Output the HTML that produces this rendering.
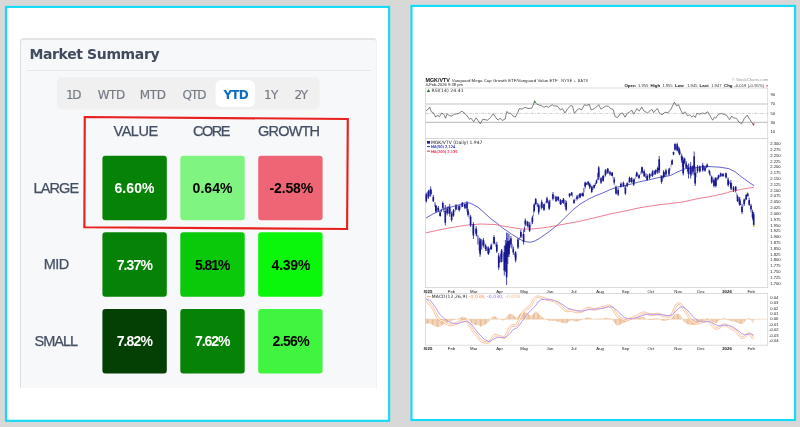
<!DOCTYPE html>
<html lang="en"><head><meta charset="utf-8"><title>Market Summary</title>
<style>
html,body{margin:0;padding:0;background:#d8d8d8}
body{width:800px;height:427px;background:#d8d8d8;position:relative;overflow:hidden;font-family:"Liberation Sans",sans-serif}
.panel{position:absolute;box-sizing:border-box;border:2px solid transparent;overflow:hidden}
.frames{position:absolute;left:0;top:0;filter:blur(0.3px)}
#left{left:5px;top:6px;width:385px;height:416px;filter:blur(0.3px)}
.card{position:absolute;left:13px;top:30px;width:357.4px;height:350.4px;box-sizing:border-box;background:#f7f8fa;border-top:2px solid #e3e4e5;border-left:1px solid #dddedf;border-right:1px solid #f0f1f3;border-radius:4px 4px 0 0}
.sep{position:absolute;left:20px;top:62px;width:343.5px;height:1px;background:#e6e8eb}
.red{position:absolute;left:0;top:0}
.t{position:absolute;white-space:nowrap;line-height:20px;font-family:"Liberation Sans",sans-serif}
.pct{font-size:14px;font-weight:bold;color:#000}
.hd{font-size:14.5px;color:#434f62;-webkit-text-stroke:0.25px #434f62}
.tab{font-family:"DejaVu Sans","Liberation Sans",sans-serif;font-size:12px;color:#747a83;-webkit-text-stroke:0.15px #747a83}
.tab.on{font-weight:bold;color:#0d6cc4;-webkit-text-stroke:0}
.title{font-family:"DejaVu Sans","Liberation Sans",sans-serif;font-size:14px;font-weight:bold;color:#404b5d}
.chart{position:absolute;left:0;top:0;filter:blur(0.35px)}
</style></head>
<body>
<svg class="frames" width="800" height="427"><rect x="6" y="6.9" width="383.1" height="413.9" fill="#fff" stroke="#12dbf8" stroke-width="2.1"/><rect x="411.45" y="5.9" width="383.6" height="414.1" fill="#fff" stroke="#12dbf8" stroke-width="2.1"/></svg>
<div class="panel" id="left">
 <div class="card"></div>
 <div class="sep"></div>
 <svg class="red" width="381" height="412"><rect x="50" y="69.2" width="262.6" height="32.2" rx="5" fill="#f0f0f1"/><rect x="208.6" y="72" width="39.4" height="27" rx="6" fill="#fff"/><polygon points="77.75,109 340.8,111 340.1,221 77.35,219.3" fill="none" stroke="#e8201f" stroke-width="2.15" stroke-linejoin="miter"/>
<rect x="95.40" y="147.70" width="64.4" height="64.5" rx="3" fill="#068206"/>
<rect x="173.30" y="147.70" width="64.4" height="64.5" rx="3" fill="#80f480"/>
<rect x="251.20" y="147.70" width="64.4" height="64.5" rx="3" fill="#ee6675"/>
<rect x="95.40" y="224.35" width="64.4" height="64.5" rx="3" fill="#068206"/>
<rect x="173.30" y="224.35" width="64.4" height="64.5" rx="3" fill="#0ac80a"/>
<rect x="251.20" y="224.35" width="64.4" height="64.5" rx="3" fill="#0af60a"/>
<rect x="95.40" y="301.00" width="64.4" height="64.5" rx="3" fill="#043f04"/>
<rect x="173.30" y="301.00" width="64.4" height="64.5" rx="3" fill="#068206"/>
<rect x="251.20" y="301.00" width="64.4" height="64.5" rx="3" fill="#40f440"/></svg>
<div class="t pct" style="left:107.4px;top:170.0px;letter-spacing:0.1px;color:#fff">6.60%</div>
<div class="t pct" style="left:185.6px;top:170.0px;letter-spacing:0.05px;">0.64%</div>
<div class="t pct" style="left:262.6px;top:170.0px;letter-spacing:-0.16px;">-2.58%</div>
<div class="t pct" style="left:109.7px;top:246.7px;letter-spacing:-0.88px;color:#fff">7.37%</div>
<div class="t pct" style="left:187.9px;top:246.7px;letter-spacing:-1.02px;">5.81%</div>
<div class="t pct" style="left:264.6px;top:246.7px;letter-spacing:-0.23px;">4.39%</div>
<div class="t pct" style="left:109.7px;top:323.2px;letter-spacing:-0.88px;color:#fff">7.82%</div>
<div class="t pct" style="left:187.9px;top:323.2px;letter-spacing:-1.02px;color:#fff">7.62%</div>
<div class="t pct" style="left:265.5px;top:323.2px;letter-spacing:-0.65px;">2.56%</div>
<div class="t hd" style="left:106.6px;top:113.0px;letter-spacing:-0.5px;">VALUE</div>
<div class="t hd" style="left:186.0px;top:113.0px;letter-spacing:-1.53px;">CORE</div>
<div class="t hd" style="left:251.0px;top:113.0px;letter-spacing:-0.8px;">GROWTH</div>
<div class="t hd" style="left:26.5px;top:169.5px;letter-spacing:-0.88px;">LARGE</div>
<div class="t hd" style="left:36.8px;top:246.2px;letter-spacing:-0.6px;">MID</div>
<div class="t hd" style="left:27.6px;top:323.0px;letter-spacing:-1.0px;">SMALL</div>
<div class="t tab" style="left:58.9px;top:76.7px;letter-spacing:-1.3px;">1D</div>
<div class="t tab" style="left:90.8px;top:76.7px;letter-spacing:-0.55px;">WTD</div>
<div class="t tab" style="left:132.7px;top:76.7px;letter-spacing:-0.35px;">MTD</div>
<div class="t tab" style="left:175.4px;top:76.7px;letter-spacing:-0.9px;">QTD</div>
<div class="t tab on" style="left:216.4px;top:76.7px;letter-spacing:-0.75px;">YTD</div>
<div class="t tab" style="left:257.0px;top:76.7px;letter-spacing:-0.6px;">1Y</div>
<div class="t tab" style="left:287.4px;top:76.7px;letter-spacing:-1.4px;">2Y</div>
<div class="t title" style="left:22.4px;top:36.3px;letter-spacing:-0.37px;">Market Summary</div>
</div>
<svg class="chart" width="800" height="427" viewBox="0 0 800 427">
<g transform="translate(0.0,0.0)">
<g fill="#fff" stroke="#d4d4d4" stroke-width="0.8">
<rect x="425.5" y="88" width="342.20000000000005" height="50.6"/>
<rect x="425.5" y="138.6" width="342.20000000000005" height="149"/>
<rect x="425.5" y="293.5" width="342.20000000000005" height="51.7"/>
</g>
<g stroke="#c4c4c4" stroke-width="1.1"><line x1="425.5" y1="104" x2="767.7" y2="104"/><line x1="425.5" y1="122.4" x2="767.7" y2="122.4"/></g>
<line x1="425.5" y1="113.4" x2="767.7" y2="113.4" stroke="#9a9a9a" stroke-width="0.5" stroke-dasharray="3 1.2 0.8 1.2"/>
<polyline fill="none" stroke="#4a4a4a" stroke-width="0.7" stroke-linejoin="round" points="426.0,110.7 428.2,109.2 429.7,107.0 431.2,111.5 433.5,113.0 435.7,117.2 437.2,115.2 439.5,116.7 441.7,113.0 444.0,114.5 445.5,118.2 447.0,113.7 449.2,115.7 451.5,116.0 454.5,114.2 458.2,113.7 462.0,111.2 465.0,113.7 467.2,116.0 469.5,119.3 471.0,118.2 473.7,121.7 476.2,117.8 478.5,121.2 480.3,123.8 482.7,119.3 485.2,119.7 487.5,120.2 490.5,117.5 493.2,113.7 495.7,117.5 498.0,120.2 500.2,118.2 502.2,120.5 505.2,119.0 506.7,111.5 508.5,113.0 510.7,113.3 513.0,116.0 515.2,117.2 517.5,113.0 519.3,108.5 522.0,109.2 525.0,107.3 528.0,108.5 531.7,108.2 534.7,101.7 537.0,104.3 538.0,104.7 541.7,105.8 544.0,107.3 546.2,106.2 548.5,107.3 552.2,104.7 553.7,105.8 557.5,106.2 560.5,110.0 562.3,108.5 565.0,113.0 568.0,108.2 571.0,105.5 572.5,106.2 574.3,113.3 577.0,110.0 579.2,108.5 581.5,110.0 584.5,104.7 586.7,105.5 589.3,104.3 591.2,110.0 594.2,108.5 596.5,107.0 598.7,104.7 601.0,109.2 603.2,107.7 605.5,106.2 608.5,106.2 610.7,108.8 613.0,109.2 615.2,116.7 617.5,117.5 620.5,113.7 622.7,113.0 625.0,117.2 627.2,113.3 629.5,112.2 631.7,110.0 633.7,114.2 637.0,108.5 639.2,111.2 641.8,107.0 643.7,110.7 647.5,113.0 651.2,109.7 652.2,109.7 653.7,112.7 656.0,109.7 657.5,108.5 659.3,113.0 662.0,114.8 665.0,112.2 668.0,112.7 671.0,109.2 674.3,102.2 676.7,105.8 678.5,104.7 680.7,110.0 683.0,114.2 684.8,111.8 687.5,115.7 689.7,114.8 691.7,116.7 693.8,115.7 695.3,117.5 696.8,113.3 699.5,114.2 702.5,113.0 704.7,113.7 707.7,111.8 710.0,115.7 712.7,120.2 714.5,117.2 715.7,118.2 718.2,114.5 721.2,113.3 724.2,114.5 726.5,115.2 729.5,119.7 731.7,116.0 733.2,117.8 736.2,118.2 739.2,122.3 741.5,123.8 744.5,118.2 747.2,115.2 749.7,119.3 752.0,122.7 753.5,124.7"/>
<path d="M533.4 102.6 L534.7 100.2 L536 102.6 Z" fill="#2f7d32"/>
<path d="M752.3 123.4 L754.7 123.4 L753.5 126 Z" fill="#a83232"/>
<path d="M426.2 319.2V323.7M427.5 319.2V323.5M428.7 319.2V323.3M430.0 319.2V323.7M431.2 319.2V324.2M432.5 319.2V324.8M433.8 319.2V325.6M435.0 319.2V326.3M436.3 319.2V326.6M437.6 319.2V326.9M438.8 319.2V327.1M440.1 319.2V326.3M441.3 319.2V325.4M442.6 319.2V324.7M443.9 319.2V324.1M445.1 319.2V323.6M446.4 319.2V323.1M447.7 319.2V322.7M448.9 319.2V322.1M450.2 319.2V321.4M451.4 319.2V320.7M452.7 319.2V320.4M454.0 319.2V320.0M455.2 319.2V319.7M457.8 319.2V318.7M459.0 319.2V318.2M460.3 319.2V317.7M461.5 319.2V317.2M462.8 319.2V316.7M464.1 319.2V317.2M465.3 319.2V317.6M466.6 319.2V318.4M469.1 319.2V320.4M470.4 319.2V321.7M471.6 319.2V322.9M472.9 319.2V323.9M474.2 319.2V324.8M475.4 319.2V325.1M476.7 319.2V324.9M477.9 319.2V325.0M479.2 319.2V325.8M480.5 319.2V326.6M481.7 319.2V326.2M483.0 319.2V325.6M484.3 319.2V324.9M485.5 319.2V324.3M486.8 319.2V323.6M488.0 319.2V322.4M489.3 319.2V321.1M491.8 319.2V317.3M493.1 319.2V316.4M494.3 319.2V315.9M495.6 319.2V316.7M496.9 319.2V317.6M498.1 319.2V318.4M500.7 319.2V319.6M501.9 319.2V320.1M503.2 319.2V320.5M504.4 319.2V320.1M505.7 319.2V318.4M507.0 319.2V316.6M508.2 319.2V314.7M509.5 319.2V314.1M510.8 319.2V313.8M512.0 319.2V314.1M513.3 319.2V315.2M514.5 319.2V316.2M515.8 319.2V317.4M517.1 319.2V317.6M518.3 319.2V315.7M519.6 319.2V314.3M520.8 319.2V313.3M522.1 319.2V312.5M523.4 319.2V312.4M524.6 319.2V312.2M525.9 319.2V312.5M527.2 319.2V312.9M528.4 319.2V313.6M529.7 319.2V314.9M530.9 319.2V316.1M532.2 319.2V315.0M533.5 319.2V313.7M534.7 319.2V312.5M536.0 319.2V311.8M537.3 319.2V312.3M538.5 319.2V313.6M539.8 319.2V314.9M541.0 319.2V316.0M542.3 319.2V317.1M543.6 319.2V318.0M544.8 319.2V318.8M546.1 319.2V319.5M547.4 319.2V320.1M548.6 319.2V320.7M549.9 319.2V320.7M551.1 319.2V320.7M552.4 319.2V320.7M553.7 319.2V320.8M554.9 319.2V321.0M556.2 319.2V321.3M557.4 319.2V321.5M558.7 319.2V321.8M560.0 319.2V322.2M561.2 319.2V322.5M562.5 319.2V322.8M563.8 319.2V323.2M565.0 319.2V323.5M566.3 319.2V323.3M567.5 319.2V322.5M568.8 319.2V321.7M570.1 319.2V321.0M571.3 319.2V320.2M572.6 319.2V320.4M573.9 319.2V321.1M575.1 319.2V321.5M576.4 319.2V321.4M577.6 319.2V321.3M578.9 319.2V321.0M580.2 319.2V320.5M581.4 319.2V320.0M583.9 319.2V318.8M585.2 319.2V318.1M586.5 319.2V317.6M587.7 319.2V317.5M589.0 319.2V317.3M590.3 319.2V317.9M591.5 319.2V318.6M595.3 319.2V319.6M597.8 319.2V318.8M599.1 319.2V318.5M600.4 319.2V318.6M601.6 319.2V318.7M602.9 319.2V318.7M604.1 319.2V318.3M605.4 319.2V317.9M606.7 319.2V317.8M607.9 319.2V318.1M609.2 319.2V318.3M610.5 319.2V318.8M611.7 319.2V319.8M613.0 319.2V320.7M614.2 319.2V322.4M615.5 319.2V324.0M616.8 319.2V325.1M618.0 319.2V325.5M619.3 319.2V325.0M620.5 319.2V324.5M621.8 319.2V323.7M623.1 319.2V323.0M624.3 319.2V322.4M625.6 319.2V321.9M626.9 319.2V321.3M628.1 319.2V320.5M629.4 319.2V319.8M630.6 319.2V319.5M634.4 319.2V318.7M635.7 319.2V318.4M637.0 319.2V318.1M638.2 319.2V317.8M639.5 319.2V317.4M640.7 319.2V317.1M642.0 319.2V316.8M643.3 319.2V317.2M644.5 319.2V317.9M645.8 319.2V318.5M648.3 319.2V319.7M649.6 319.2V320.0M650.8 319.2V320.0M652.1 319.2V320.0M653.4 319.2V320.0M654.6 319.2V318.5M655.9 319.2V318.5M657.1 319.2V318.5M658.4 319.2V318.6M660.9 319.2V320.1M662.2 319.2V320.7M663.5 319.2V320.7M664.7 319.2V320.7M666.0 319.2V320.6M667.2 319.2V320.3M668.5 319.2V320.0M669.8 319.2V319.5M671.0 319.2V318.3M672.3 319.2V317.2M673.6 319.2V315.9M674.8 319.2V314.7M676.1 319.2V313.9M677.3 319.2V313.8M678.6 319.2V313.8M679.9 319.2V314.8M681.1 319.2V316.5M683.6 319.2V321.1M684.9 319.2V322.5M686.2 319.2V323.3M687.4 319.2V324.2M688.7 319.2V324.4M690.0 319.2V324.6M691.2 319.2V324.8M692.5 319.2V324.8M693.7 319.2V324.8M695.0 319.2V324.8M696.3 319.2V324.2M697.5 319.2V323.5M698.8 319.2V322.9M700.1 319.2V322.3M701.3 319.2V321.7M702.6 319.2V320.8M703.8 319.2V319.9M706.4 319.2V318.6M707.6 319.2V318.2M710.1 319.2V319.8M711.4 319.2V320.9M712.7 319.2V321.9M713.9 319.2V322.5M715.2 319.2V323.0M716.5 319.2V322.9M717.7 319.2V321.8M719.0 319.2V320.7M720.2 319.2V319.8M721.5 319.2V318.9M722.8 319.2V318.4M724.0 319.2V318.3M725.3 319.2V318.4M727.8 319.2V319.9M729.1 319.2V320.4M730.3 319.2V320.8M731.6 319.2V321.2M732.9 319.2V321.4M734.1 319.2V321.6M735.4 319.2V321.8M736.7 319.2V322.4M737.9 319.2V323.0M739.2 319.2V323.7M740.4 319.2V323.9M741.7 319.2V324.1M743.0 319.2V323.3M744.2 319.2V321.8M745.5 319.2V320.5M748.0 319.2V318.4M749.3 319.2V318.5M750.5 319.2V318.9M751.8 319.2V320.8M753.1 319.2V322.6" stroke="#e9bc94" stroke-width="1.0" fill="none"/>
<line x1="425.5" y1="319.2" x2="767.7" y2="319.2" stroke="#e9c19c" stroke-width="0.5"/>
<polyline fill="none" stroke="#fff" stroke-width="1.5" stroke-linejoin="round" points="426.5,300.3 426.8,300.6 427.0,301.0 427.5,301.6 428.0,302.2 428.5,302.9 429.1,303.5 429.6,304.1 430.2,304.7 430.8,305.3 431.4,305.9 431.9,306.6 432.3,307.3 432.8,308.0 433.1,308.8 433.5,309.5 433.9,310.2 434.2,311.0 434.6,311.8 435.0,312.5 435.4,313.2 435.8,314.0 436.1,314.8 436.5,315.5 436.9,316.2 437.2,317.0 437.7,317.7 438.2,318.4 438.8,319.0 439.5,319.6 440.3,320.1 441.1,320.5 442.1,320.8 442.9,321.1 443.7,321.5 444.5,321.9 445.1,322.4 445.7,323.0 446.3,323.5 447.0,323.9 447.7,324.3 448.5,324.6 449.3,324.8 450.1,324.9 451.0,324.9 451.9,324.9 452.7,324.6 453.6,324.4 454.4,324.1 455.2,323.8 456.0,323.4 456.7,323.1 457.5,322.7 458.2,322.3 459.0,321.9 459.7,321.5 460.5,321.1 461.3,320.8 462.2,320.6 463.1,320.4 464.0,320.3 464.9,320.4 465.7,320.7 466.5,321.1 467.2,321.7 467.8,322.3 468.4,323.0 468.9,323.7 469.3,324.5 469.7,325.2 470.1,326.0 470.6,326.7 471.0,327.5 471.4,328.2 471.9,329.0 472.3,329.7 472.7,330.5 473.1,331.2 473.6,331.9 474.2,332.6 474.8,333.2 475.5,333.9 476.2,334.5 476.8,335.1 477.4,335.8 477.9,336.5 478.3,337.2 478.7,338.0 479.1,338.7 479.6,339.4 480.2,340.1 480.8,340.7 481.5,341.2 482.3,341.6 483.1,341.9 484.1,342.1 485.0,342.2 486.0,342.3 487.0,342.4 487.9,342.4 488.7,342.2 489.5,341.8 490.1,341.1 490.6,340.3 491.1,339.5 491.6,338.8 492.1,338.0 492.6,337.2 493.1,336.5 493.7,336.0 494.3,335.5 495.0,335.2 495.7,335.2 496.5,335.3 497.2,335.6 498.0,336.0 498.9,336.3 499.8,336.5 500.6,336.7 501.6,336.9 502.4,337.1 503.2,337.4 503.9,337.5 504.5,337.4 505.0,337.0 505.4,336.5 505.8,335.8 506.2,335.0 506.6,334.2 506.9,333.5 507.3,332.8 507.7,332.0 508.1,331.2 508.4,330.5 508.8,329.8 509.2,329.0 509.6,328.2 509.9,327.5 510.4,326.8 511.1,326.3 511.8,325.8 512.7,325.6 513.7,325.5 514.7,325.6 515.6,325.5 516.3,325.4 516.8,325.0 517.3,324.5 517.6,323.8 517.9,323.0 518.1,322.2 518.4,321.5 518.7,320.8 519.1,320.0 519.4,319.2 519.8,318.5 520.1,317.8 520.5,317.0 520.9,316.2 521.2,315.5 521.6,314.8 522.1,314.0 522.5,313.2 523.0,312.5 523.5,311.8 524.0,311.0 524.5,310.3 525.1,309.7 525.8,309.2 526.5,308.8 527.2,308.3 528.0,307.9 528.8,307.4 529.5,306.9 530.2,306.2 530.8,305.6 531.2,304.9 531.7,304.2 532.0,303.5 532.3,302.7 532.7,302.0 533.0,301.2 533.3,300.5 533.7,299.8 534.2,299.1 534.7,298.5 535.3,297.9 535.9,297.4 536.6,297.0 537.4,296.8 538.2,296.8 539.1,296.9 540.0,297.2 541.0,297.5 541.9,297.8 542.8,298.1 543.7,298.4 544.6,298.7 545.5,299.0 546.4,299.2 547.3,299.5 548.2,299.7 549.1,300.0 550.0,300.2 550.9,300.4 551.8,300.6 552.7,300.8 553.6,301.1 554.4,301.4 555.2,301.8 556.0,302.2 556.8,302.7 557.5,303.2 558.2,303.7 558.9,304.3 559.6,304.9 560.2,305.5 560.9,306.1 561.5,306.7 562.1,307.4 562.7,307.9 563.3,308.5 564.0,309.1 564.6,309.6 565.2,310.2 565.9,310.6 566.7,310.8 567.5,310.9 568.4,310.8 569.3,310.6 570.2,310.5 571.2,310.6 572.1,310.8 573.0,311.0 574.0,311.2 574.9,311.5 575.8,311.7 576.7,311.8 577.6,311.9 578.5,311.9 579.4,311.9 580.3,311.7 581.2,311.5 582.1,311.2 582.9,310.8 583.7,310.3 584.5,309.8 585.2,309.2 586.0,308.7 586.9,308.3 587.9,308.0 588.8,308.0 589.7,308.2 590.5,308.4 591.2,308.8 592.0,309.1 592.8,309.2 593.7,309.3 594.6,309.4 595.5,309.2 596.5,309.0 597.4,308.8 598.4,308.4 599.3,308.1 600.2,307.9 601.2,307.6 602.1,307.4 603.0,307.3 603.9,307.1 604.7,306.8 605.5,306.6 606.2,306.2 607.0,305.9 607.8,305.8 608.5,305.7 609.2,305.8 610.0,306.1 610.7,306.5 611.4,307.0 612.0,307.5 612.6,308.1 613.1,308.8 613.6,309.5 614.0,310.3 614.5,311.0 614.9,311.8 615.2,312.5 615.6,313.3 616.1,314.0 616.6,314.8 617.1,315.6 617.7,316.4 618.3,317.0 619.0,317.5 619.7,317.9 620.5,318.2 621.2,318.6 622.0,319.0 622.7,319.4 623.5,319.8 624.3,320.1 625.1,320.2 626.0,320.2 627.0,320.0 628.0,319.7 628.9,319.3 629.9,318.9 630.8,318.6 631.7,318.2 632.7,317.9 633.6,317.6 634.5,317.3 635.4,316.9 636.2,316.5 637.0,316.1 637.7,315.6 638.5,315.1 639.2,314.6 640.0,314.1 640.7,313.6 641.5,313.2 642.3,312.9 643.2,312.8 644.1,312.9 645.0,313.1 646.0,313.3 646.9,313.6 647.9,313.9 648.8,314.2 649.7,314.5 650.7,314.6 651.6,314.7 652.6,314.7 653.5,314.6 654.5,314.6 655.4,314.4 656.4,314.2 657.2,314.1 658.1,314.1 658.9,314.2 659.7,314.4 660.5,314.8 661.3,315.1 662.1,315.4 663.0,315.6 663.9,315.9 664.8,316.0 665.7,316.2 666.7,316.3 667.6,316.4 668.5,316.4 669.3,316.3 670.0,316.0 670.7,315.6 671.3,315.1 671.8,314.5 672.3,313.8 672.8,313.1 673.1,312.3 673.4,311.4 673.8,310.6 674.1,309.7 674.4,308.9 674.8,308.1 675.2,307.3 675.6,306.5 676.1,305.7 676.6,305.0 677.2,304.5 677.8,304.0 678.5,303.7 679.2,303.7 680.0,303.9 680.7,304.3 681.3,304.9 681.9,305.6 682.4,306.3 682.8,307.1 683.3,307.9 683.7,308.7 684.2,309.5 684.6,310.2 685.1,311.0 685.5,311.7 686.0,312.5 686.5,313.2 687.0,314.0 687.5,314.8 688.0,315.5 688.5,316.2 689.0,317.0 689.5,317.8 690.0,318.5 690.5,319.2 691.0,320.0 691.5,320.7 692.1,321.4 692.8,322.0 693.5,322.6 694.3,323.0 695.1,323.3 696.0,323.4 696.9,323.4 697.8,323.1 698.7,322.9 699.7,322.7 700.6,322.4 701.5,322.1 702.5,321.8 703.4,321.5 704.4,321.2 705.3,321.0 706.2,320.9 707.2,320.8 708.1,320.9 708.9,321.1 709.7,321.6 710.4,322.2 710.9,322.9 711.4,323.7 711.9,324.4 712.4,325.1 712.8,325.8 713.3,326.5 713.9,327.1 714.5,327.8 715.2,328.2 716.0,328.4 716.7,328.4 717.5,328.2 718.2,327.8 719.0,327.4 719.8,326.9 720.5,326.4 721.3,325.9 722.1,325.4 723.0,325.1 723.9,324.9 724.7,324.8 725.6,324.9 726.4,325.2 727.2,325.6 728.0,326.1 728.7,326.7 729.5,327.2 730.2,327.7 731.0,328.2 731.7,328.6 732.5,329.0 733.2,329.4 734.0,329.8 734.7,330.2 735.4,330.7 736.1,331.3 736.7,332.0 737.3,332.7 737.9,333.4 738.4,334.1 739.0,334.8 739.5,335.5 740.0,336.1 740.5,336.7 741.1,337.2 741.9,337.5 742.6,337.6 743.4,337.4 744.2,336.9 744.9,336.4 745.5,335.7 746.1,335.0 746.8,334.4 747.5,334.0 748.2,333.8 749.0,333.7 749.7,333.9 750.3,334.4 750.9,335.0 751.4,335.7 751.9,336.5 752.3,337.3 752.8,338.1 753.0,338.5 753.3,338.9"/>
<polyline fill="none" stroke="#f28f4a" stroke-width="0.55" stroke-linejoin="round" points="425.8,300.9 426.1,301.2 426.3,301.5 426.8,302.1 427.3,302.8 427.9,303.4 428.4,304.0 429.0,304.7 429.6,305.3 430.2,305.9 430.7,306.5 431.2,307.1 431.6,307.7 432.0,308.4 432.4,309.1 432.7,309.9 433.1,310.6 433.5,311.4 433.9,312.1 434.2,312.9 434.6,313.6 435.0,314.4 435.4,315.1 435.7,315.9 436.1,316.6 436.5,317.4 437.0,318.2 437.6,318.9 438.2,319.6 439.0,320.3 439.9,320.8 440.8,321.3 441.8,321.6 442.6,321.9 443.3,322.2 444.0,322.6 444.5,323.1 445.1,323.7 445.8,324.2 446.6,324.7 447.4,325.1 448.2,325.4 449.1,325.6 450.0,325.8 451.0,325.8 452.0,325.7 453.0,325.5 453.9,325.2 454.7,324.9 455.6,324.6 456.3,324.2 457.1,323.8 457.9,323.4 458.6,323.0 459.4,322.6 460.1,322.3 460.8,321.9 461.6,321.6 462.4,321.4 463.2,321.2 464.0,321.2 464.7,321.3 465.4,321.5 466.0,321.8 466.6,322.3 467.2,322.9 467.7,323.5 468.1,324.2 468.5,324.9 469.0,325.6 469.4,326.4 469.8,327.2 470.3,327.9 470.7,328.7 471.1,329.4 471.5,330.2 472.0,330.9 472.4,331.7 473.0,332.4 473.6,333.2 474.2,333.9 474.9,334.5 475.6,335.1 476.2,335.7 476.7,336.3 477.1,336.9 477.5,337.7 478.0,338.4 478.4,339.2 479.0,339.9 479.6,340.6 480.3,341.3 481.0,341.9 482.0,342.4 482.9,342.7 483.9,342.9 484.9,343.1 485.9,343.2 487.0,343.3 488.0,343.2 489.0,343.0 490.0,342.4 490.8,341.7 491.3,340.8 491.9,340.0 492.4,339.2 492.8,338.4 493.3,337.7 493.7,337.1 494.2,336.6 494.7,336.2 495.1,336.0 495.6,336.0 496.2,336.1 496.9,336.4 497.7,336.8 498.6,337.1 499.5,337.4 500.5,337.6 501.4,337.7 502.2,338.0 503.0,338.2 503.9,338.3 504.8,338.2 505.6,337.7 506.2,337.0 506.6,336.1 507.0,335.4 507.3,334.6 507.7,333.9 508.1,333.1 508.5,332.4 508.8,331.6 509.2,330.9 509.6,330.1 510.0,329.4 510.3,328.6 510.7,327.9 511.1,327.4 511.6,327.0 512.2,326.6 512.8,326.4 513.7,326.4 514.7,326.4 515.7,326.4 516.6,326.2 517.4,325.7 518.0,324.9 518.4,324.1 518.6,323.3 518.9,322.6 519.2,321.8 519.5,321.1 519.8,320.3 520.2,319.6 520.5,318.9 520.9,318.1 521.3,317.4 521.6,316.6 522.0,315.9 522.4,315.2 522.8,314.4 523.2,313.7 523.7,313.0 524.2,312.2 524.7,311.5 525.2,310.9 525.7,310.4 526.3,309.9 526.9,309.5 527.7,309.1 528.5,308.6 529.2,308.1 530.0,307.5 530.8,306.8 531.4,306.1 532.0,305.4 532.4,304.6 532.8,303.8 533.1,303.1 533.4,302.3 533.8,301.6 534.1,300.9 534.4,300.2 534.9,299.6 535.3,299.1 535.9,298.5 536.4,298.1 536.9,297.8 537.5,297.6 538.2,297.6 538.9,297.7 539.8,298.0 540.7,298.3 541.6,298.6 542.5,298.9 543.4,299.2 544.3,299.5 545.3,299.8 546.2,300.0 547.1,300.3 548.0,300.5 548.9,300.8 549.8,301.0 550.7,301.2 551.6,301.4 552.5,301.6 553.3,301.9 554.1,302.2 554.8,302.5 555.6,302.9 556.3,303.4 557.0,303.9 557.7,304.4 558.4,304.9 559.0,305.5 559.6,306.1 560.2,306.7 560.9,307.3 561.5,308.0 562.1,308.6 562.8,309.2 563.4,309.7 564.0,310.3 564.7,310.9 565.6,311.4 566.5,311.6 567.5,311.7 568.5,311.6 569.4,311.4 570.2,311.4 571.1,311.4 571.9,311.6 572.8,311.8 573.8,312.1 574.7,312.3 575.6,312.5 576.6,312.7 577.5,312.8 578.5,312.8 579.5,312.7 580.5,312.6 581.5,312.3 582.4,312.0 583.3,311.5 584.2,311.0 585.0,310.5 585.7,309.9 586.4,309.4 587.2,309.1 588.0,308.9 588.7,308.9 589.5,309.0 590.2,309.2 590.9,309.6 591.8,309.9 592.7,310.1 593.6,310.2 594.7,310.2 595.7,310.1 596.7,309.8 597.7,309.6 598.6,309.3 599.5,308.9 600.4,308.7 601.3,308.5 602.3,308.3 603.2,308.1 604.1,307.9 605.0,307.7 605.8,307.4 606.6,307.0 607.3,306.7 607.9,306.6 608.5,306.6 609.1,306.6 609.6,306.8 610.2,307.2 610.8,307.6 611.4,308.1 612.0,308.7 612.4,309.3 612.9,310.0 613.3,310.7 613.7,311.4 614.1,312.1 614.5,312.9 614.9,313.7 615.4,314.5 615.9,315.3 616.4,316.1 617.1,316.9 617.8,317.6 618.5,318.2 619.3,318.7 620.1,319.0 620.8,319.3 621.6,319.7 622.3,320.1 623.1,320.6 624.1,320.9 625.1,321.1 626.1,321.1 627.2,320.8 628.2,320.5 629.2,320.1 630.2,319.7 631.1,319.4 632.0,319.0 632.9,318.7 633.9,318.4 634.8,318.1 635.7,317.7 636.6,317.3 637.4,316.8 638.2,316.3 638.9,315.9 639.7,315.3 640.4,314.8 641.1,314.3 641.8,314.0 642.5,313.8 643.2,313.7 644.0,313.7 644.8,313.9 645.7,314.1 646.6,314.4 647.6,314.8 648.6,315.1 649.6,315.3 650.6,315.5 651.6,315.5 652.6,315.5 653.6,315.5 654.6,315.4 655.6,315.2 656.5,315.0 657.3,314.9 658.0,314.9 658.7,315.0 659.4,315.2 660.1,315.6 661.0,315.9 661.8,316.2 662.7,316.5 663.7,316.7 664.6,316.9 665.6,317.0 666.5,317.2 667.5,317.3 668.6,317.3 669.5,317.1 670.4,316.8 671.2,316.3 671.9,315.7 672.5,315.0 673.0,314.3 673.5,313.5 673.9,312.6 674.2,311.7 674.6,310.9 674.9,310.0 675.2,309.2 675.6,308.4 675.9,307.7 676.4,306.9 676.8,306.2 677.2,305.6 677.7,305.1 678.2,304.7 678.6,304.5 679.1,304.5 679.7,304.7 680.2,304.9 680.7,305.5 681.2,306.1 681.7,306.7 682.1,307.5 682.5,308.3 683.0,309.1 683.4,309.9 683.9,310.7 684.4,311.4 684.8,312.2 685.3,313.0 685.8,313.7 686.3,314.5 686.8,315.2 687.3,316.0 687.8,316.7 688.3,317.5 688.8,318.2 689.3,319.0 689.8,319.7 690.3,320.5 690.9,321.3 691.5,322.0 692.2,322.6 693.0,323.3 694.0,323.8 694.9,324.1 695.9,324.2 697.0,324.2 698.0,324.0 698.9,323.7 699.9,323.5 700.8,323.2 701.8,322.9 702.7,322.6 703.7,322.3 704.6,322.1 705.5,321.9 706.4,321.7 707.2,321.6 707.9,321.7 708.6,321.9 709.2,322.3 709.7,322.8 710.2,323.4 710.7,324.2 711.2,324.9 711.7,325.6 712.1,326.3 712.7,327.0 713.3,327.7 714.0,328.4 714.9,329.0 715.9,329.3 716.8,329.3 717.8,329.0 718.7,328.6 719.5,328.1 720.2,327.6 721.0,327.1 721.7,326.6 722.5,326.2 723.2,325.9 724.0,325.7 724.7,325.7 725.4,325.8 726.1,326.0 726.8,326.3 727.5,326.8 728.2,327.4 729.0,327.9 729.7,328.4 730.5,328.9 731.3,329.4 732.1,329.8 732.8,330.2 733.6,330.5 734.2,330.9 734.9,331.4 735.5,331.9 736.1,332.5 736.6,333.3 737.2,334.0 737.8,334.7 738.3,335.3 738.8,336.0 739.3,336.6 739.9,337.3 740.7,337.9 741.7,338.4 742.7,338.4 743.7,338.2 744.7,337.6 745.4,337.0 746.1,336.3 746.7,335.7 747.3,335.1 747.8,334.8 748.4,334.6 748.9,334.6 749.3,334.7 749.7,335.1 750.2,335.6 750.7,336.2 751.1,336.9 751.6,337.7 752.1,338.5 752.3,338.9 752.6,339.4"/>
<polyline fill="none" stroke="#f28f4a" stroke-width="0.55" stroke-linejoin="round" points="427.2,299.8 427.4,300.1 427.7,300.4 428.2,301.1 428.7,301.7 429.2,302.3 429.7,302.9 430.2,303.5 430.8,304.1 431.4,304.7 432.0,305.4 432.6,306.1 433.0,306.8 433.5,307.6 433.9,308.4 434.3,309.1 434.6,309.9 435.0,310.6 435.4,311.4 435.8,312.1 436.1,312.9 436.5,313.6 436.9,314.4 437.3,315.1 437.6,315.9 438.0,316.6 438.4,317.2 438.9,317.8 439.4,318.4 440.0,318.9 440.7,319.3 441.5,319.7 442.3,320.0 443.2,320.3 444.1,320.7 445.0,321.2 445.7,321.8 446.2,322.4 446.8,322.8 447.4,323.2 448.1,323.5 448.7,323.8 449.4,324.0 450.2,324.1 450.9,324.1 451.7,324.0 452.5,323.8 453.3,323.6 454.1,323.3 454.9,323.0 455.6,322.7 456.4,322.3 457.1,321.9 457.8,321.5 458.6,321.2 459.3,320.7 460.2,320.4 461.1,320.0 462.0,319.8 463.0,319.5 464.1,319.5 465.1,319.6 466.0,319.9 467.0,320.4 467.8,321.1 468.4,321.8 469.0,322.5 469.6,323.3 470.0,324.1 470.5,324.8 470.9,325.6 471.3,326.3 471.7,327.1 472.2,327.8 472.6,328.6 473.0,329.3 473.5,330.0 473.9,330.8 474.3,331.4 474.8,332.0 475.4,332.6 476.1,333.2 476.8,333.8 477.4,334.5 478.0,335.3 478.6,336.0 479.0,336.8 479.5,337.5 479.9,338.3 480.3,338.9 480.8,339.5 481.4,340.0 482.0,340.5 482.6,340.8 483.4,341.1 484.2,341.3 485.1,341.4 486.1,341.5 487.0,341.6 487.8,341.6 488.4,341.4 488.9,341.1 489.4,340.6 489.9,339.9 490.4,339.1 490.9,338.3 491.4,337.5 491.9,336.7 492.4,336.0 493.1,335.3 493.9,334.7 494.8,334.4 495.8,334.3 496.7,334.5 497.5,334.8 498.3,335.2 499.1,335.5 500.0,335.7 500.8,335.9 501.7,336.1 502.6,336.3 503.4,336.6 503.9,336.6 504.2,336.6 504.4,336.4 504.7,336.0 505.1,335.4 505.4,334.6 505.8,333.9 506.2,333.1 506.6,332.4 506.9,331.6 507.3,330.9 507.7,330.1 508.1,329.4 508.4,328.6 508.8,327.9 509.2,327.1 509.8,326.3 510.6,325.6 511.5,325.1 512.6,324.7 513.7,324.7 514.7,324.7 515.5,324.7 516.0,324.6 516.3,324.4 516.5,324.1 516.8,323.4 517.1,322.7 517.3,321.9 517.6,321.2 517.9,320.4 518.3,319.7 518.6,318.9 519.0,318.1 519.4,317.4 519.7,316.6 520.1,315.9 520.5,315.1 520.9,314.3 521.3,313.6 521.8,312.8 522.3,312.0 522.8,311.3 523.3,310.5 523.9,309.8 524.6,309.1 525.3,308.5 526.1,308.0 526.8,307.6 527.5,307.2 528.3,306.7 529.0,306.2 529.6,305.6 530.1,305.1 530.5,304.5 530.9,303.8 531.2,303.1 531.6,302.4 531.9,301.6 532.2,300.9 532.6,300.1 533.0,299.3 533.5,298.6 534.1,297.9 534.7,297.3 535.4,296.7 536.3,296.2 537.3,296.0 538.3,295.9 539.3,296.1 540.3,296.4 541.2,296.7 542.2,297.0 543.1,297.3 544.0,297.6 544.9,297.9 545.7,298.1 546.6,298.4 547.5,298.7 548.4,298.9 549.3,299.1 550.2,299.4 551.1,299.6 552.0,299.8 552.9,300.0 553.8,300.3 554.7,300.6 555.6,301.0 556.4,301.5 557.2,302.0 558.0,302.5 558.7,303.1 559.5,303.6 560.2,304.2 560.8,304.9 561.5,305.5 562.1,306.1 562.7,306.7 563.3,307.3 563.9,307.9 564.5,308.5 565.2,309.0 565.7,309.5 566.3,309.8 566.8,310.0 567.5,310.0 568.2,309.9 569.2,309.7 570.2,309.7 571.3,309.7 572.3,309.9 573.3,310.2 574.2,310.4 575.1,310.6 576.0,310.8 576.8,311.0 577.7,311.1 578.5,311.1 579.3,311.0 580.1,310.9 580.9,310.7 581.7,310.4 582.5,310.0 583.3,309.6 584.0,309.1 584.7,308.5 585.6,307.9 586.7,307.5 587.7,307.2 588.8,307.2 589.9,307.3 590.8,307.6 591.5,308.0 592.2,308.2 593.0,308.4 593.7,308.5 594.5,308.5 595.4,308.4 596.3,308.2 597.2,308.0 598.1,307.6 599.0,307.3 600.0,307.0 601.0,306.8 601.9,306.6 602.8,306.5 603.7,306.3 604.5,306.0 605.2,305.8 605.9,305.5 606.7,305.1 607.6,304.9 608.5,304.9 609.4,305.0 610.4,305.3 611.2,305.8 611.9,306.3 612.6,306.9 613.2,307.6 613.8,308.3 614.3,309.1 614.8,309.8 615.2,310.6 615.6,311.4 616.0,312.1 616.4,312.8 616.8,313.6 617.3,314.4 617.8,315.2 618.3,315.8 618.9,316.3 619.5,316.8 620.1,317.1 620.8,317.5 621.6,317.8 622.4,318.2 623.1,318.6 623.8,319.0 624.5,319.3 625.2,319.4 626.0,319.4 626.8,319.2 627.7,318.9 628.6,318.5 629.5,318.2 630.5,317.8 631.4,317.4 632.4,317.1 633.3,316.8 634.2,316.5 635.0,316.1 635.8,315.8 636.6,315.3 637.3,314.9 638.0,314.4 638.7,313.9 639.5,313.4 640.3,312.9 641.2,312.4 642.1,312.1 643.1,312.0 644.2,312.0 645.3,312.2 646.2,312.5 647.2,312.8 648.1,313.1 649.0,313.4 649.9,313.6 650.8,313.8 651.7,313.9 652.6,313.9 653.5,313.8 654.4,313.7 655.3,313.6 656.2,313.4 657.2,313.2 658.2,313.2 659.1,313.4 660.0,313.6 660.8,314.0 661.6,314.3 662.4,314.6 663.2,314.8 664.0,315.0 664.9,315.2 665.8,315.3 666.8,315.5 667.7,315.6 668.4,315.6 669.1,315.5 669.7,315.3 670.2,314.9 670.7,314.5 671.2,313.9 671.6,313.3 672.0,312.7 672.3,312.0 672.6,311.1 673.0,310.3 673.3,309.4 673.6,308.5 674.0,307.7 674.4,306.9 674.9,306.1 675.4,305.2 675.9,304.5 676.6,303.8 677.4,303.2 678.3,302.9 679.3,302.9 680.3,303.1 681.2,303.6 681.9,304.3 682.6,305.0 683.1,305.9 683.6,306.7 684.0,307.5 684.4,308.3 684.9,309.0 685.3,309.8 685.8,310.5 686.3,311.3 686.7,312.0 687.2,312.8 687.7,313.5 688.2,314.3 688.7,315.0 689.2,315.8 689.7,316.5 690.2,317.3 690.7,318.0 691.2,318.8 691.7,319.5 692.2,320.2 692.8,320.8 693.4,321.4 694.0,321.9 694.6,322.2 695.3,322.4 696.0,322.5 696.7,322.5 697.6,322.3 698.5,322.1 699.4,321.9 700.4,321.6 701.3,321.3 702.2,321.0 703.2,320.7 704.1,320.4 705.1,320.2 706.1,320.0 707.2,319.9 708.3,320.0 709.3,320.4 710.2,320.9 711.0,321.6 711.6,322.4 712.1,323.2 712.6,323.9 713.1,324.6 713.5,325.3 714.0,325.9 714.5,326.6 715.1,327.1 715.6,327.4 716.1,327.6 716.7,327.6 717.2,327.5 717.8,327.1 718.5,326.7 719.3,326.2 720.0,325.6 720.9,325.1 721.8,324.7 722.7,324.3 723.7,324.0 724.8,324.0 725.8,324.1 726.7,324.4 727.6,324.9 728.4,325.4 729.2,326.0 729.9,326.5 730.7,327.0 731.4,327.4 732.1,327.9 732.9,328.3 733.6,328.7 734.4,329.0 735.2,329.5 735.9,330.1 736.7,330.7 737.3,331.4 738.0,332.2 738.5,332.9 739.1,333.6 739.6,334.3 740.2,334.9 740.7,335.6 741.1,336.1 741.5,336.5 742.1,336.7 742.5,336.7 743.0,336.6 743.7,336.2 744.3,335.7 744.8,335.1 745.5,334.4 746.2,333.7 747.1,333.2 748.1,332.9 749.1,332.9 750.1,333.2 750.9,333.8 751.5,334.5 752.1,335.2 752.6,336.0 753.1,336.8 753.5,337.7 753.8,338.1 754.0,338.5"/>
<polyline fill="none" stroke="#ba9cec" stroke-width="1.0" stroke-linejoin="round" points="426.0,299.0 430.5,300.5 435.0,306.5 439.5,314.0 444.0,318.5 448.5,321.5 453.0,323.3 457.5,323.7 462.0,322.2 466.5,321.2 471.0,323.7 475.5,329.7 480.0,335.0 484.5,339.5 489.0,341.7 492.0,340.2 495.0,338.3 499.5,337.2 504.0,337.7 507.0,336.5 510.0,333.5 513.0,329.7 517.5,327.5 522.0,321.5 526.5,314.7 531.0,310.2 535.0,306.5 538.0,302.0 541.0,299.7 545.5,299.3 550.0,299.7 554.5,300.5 559.0,302.3 563.5,305.3 568.0,308.3 572.5,309.5 577.0,310.7 581.5,311.3 586.0,310.2 590.5,309.2 595.0,309.2 599.5,308.7 604.0,308.0 608.5,306.8 613.0,307.2 616.7,310.2 620.5,314.0 624.2,317.3 628.0,318.8 632.5,318.5 637.0,317.7 641.5,315.8 646.0,314.3 650.5,314.3 656.0,314.3 662.0,314.7 668.0,315.8 672.5,314.7 676.2,310.7 680.0,307.2 683.0,306.8 686.0,308.7 689.7,312.8 693.5,317.3 698.0,320.7 702.5,321.8 707.0,321.5 711.5,322.2 715.2,324.5 719.0,326.0 723.5,325.2 728.0,325.2 732.5,326.7 737.0,329.7 741.5,333.5 745.2,335.0 749.0,333.8 752.0,334.2 753.8,335.3"/>
<polyline fill="none" stroke="#5252c4" stroke-width="0.9" stroke-linejoin="round" points="426.0,218.0 433.0,213.9 445.3,208.4 455.0,206.0 465.0,202.8 470.0,203.0 478.0,207.2 484.0,212.5 490.0,218.0 496.0,222.5 502.5,227.8 511.8,234.3 521.2,240.0 526.0,241.8 530.5,242.2 535.0,241.0 540.0,238.0 549.3,231.5 558.6,224.0 565.0,217.7 572.5,210.2 580.0,204.2 587.5,199.7 595.0,196.0 602.5,193.0 610.0,189.7 617.5,187.0 625.0,185.5 632.5,183.7 640.0,181.7 645.0,180.7 660.0,177.3 670.5,175.5 678.0,171.7 685.5,168.7 697.5,167.2 708.0,166.5 720.0,167.2 729.0,168.7 735.0,171.7 742.5,177.7 750.0,183.0 754.0,185.7"/>
<polyline fill="none" stroke="#ea6f86" stroke-width="0.9" stroke-linejoin="round" points="426.0,232.8 445.0,228.7 465.0,225.3 480.0,224.0 495.0,224.5 502.5,226.0 510.0,227.2 521.0,229.0 530.5,229.1 540.0,228.2 549.3,226.9 565.0,224.0 580.0,221.2 595.0,217.7 610.0,214.0 625.0,211.0 640.0,207.7 660.0,204.7 682.5,202.0 697.5,198.7 712.5,196.2 727.5,192.7 730.0,191.7 745.0,188.7 754.0,187.2"/>
<path d="M426.2 194.2V201.7M427.5 191.9V198.5M437.6 207.8V211.5M438.8 209.1V212.2M447.7 206.9V213.8M450.2 209.3V214.1M451.4 214.6V219.6M452.7 212.3V216.6M454.0 210.6V212.7M455.2 207.4V211.8M457.8 205.7V209.8M460.3 204.7V209.6M461.5 203.4V207.5M462.8 204.0V206.9M465.3 205.2V208.5M469.1 212.7V219.0M470.4 216.0V225.5M472.9 225.4V233.1M475.4 228.7V232.6M484.3 241.4V247.4M491.8 243.5V248.4M493.1 241.2V243.4M495.6 242.3V246.9M503.2 253.8V261.3M507.0 238.1V273.0M508.2 243.6V251.8M510.8 239.3V243.7M514.5 252.9V257.1M519.6 237.0V240.1M522.1 234.1V237.9M525.9 220.2V225.4M528.4 224.3V227.8M529.7 224.3V228.1M530.9 222.3V226.1M532.2 218.0V224.1M533.5 209.4V216.7M534.7 202.5V208.1M536.0 200.4V204.7M539.8 205.6V210.4M541.0 203.7V206.9M542.3 203.1V207.8M543.6 205.1V209.1M544.8 203.2V206.2M548.6 200.3V207.5M552.4 194.2V199.4M554.9 195.4V198.8M557.4 196.6V200.3M560.0 200.1V203.8M571.3 192.5V195.1M572.6 195.0V197.4M575.1 197.9V200.9M577.6 195.3V199.5M587.7 182.7V185.0M589.0 183.7V186.3M591.5 187.8V190.4M594.0 185.1V188.5M596.6 180.7V182.2M599.1 170.6V179.3M604.1 173.8V178.1M606.7 169.4V174.4M609.2 170.6V173.7M610.5 172.7V174.6M613.0 176.2V179.1M615.5 186.3V189.4M616.8 189.2V194.2M621.8 182.5V186.9M623.1 182.3V185.3M624.3 185.3V188.6M625.6 187.2V193.7M626.9 184.8V187.3M628.1 181.5V184.8M630.6 178.6V182.0M631.9 179.7V182.1M633.2 179.7V183.2M635.7 174.6V179.2M638.2 174.0V177.8M640.7 171.4V174.9M647.0 176.3V179.7M649.6 173.7V177.1M653.4 170.3V174.9M659.7 162.3V172.6M660.9 174.8V178.4M666.0 170.4V175.3M671.0 164.2V167.2M673.6 152.6V154.7M674.8 145.4V150.2M676.1 146.1V149.9M677.3 144.2V149.5M681.1 155.3V157.3M686.2 163.5V167.2M690.0 164.0V174.9M692.5 165.9V173.4M695.0 165.9V182.8M696.3 171.5V177.2M702.6 165.5V169.3M707.6 165.3V167.5M708.9 168.8V172.4M712.7 178.3V181.9M715.2 178.6V183.5M716.5 177.9V185.0M720.2 173.2V176.7M721.5 174.0V176.5M725.3 173.4V177.4M726.6 174.8V178.0M727.8 177.8V184.2M736.7 192.8V197.2M741.7 206.8V211.9M743.0 204.5V207.5M744.2 198.9V204.3M745.5 198.0V201.4M746.7 195.3V198.3M753.1 213.9V220.9" stroke="#2424a4" stroke-width="0.9" fill="none" opacity="0.5"/>
<path d="M428.7 190.3V196.7M430.0 189.5V196.5M431.2 190.0V194.4M435.0 202.2V206.8M436.3 205.7V212.0M440.1 211.6V216.0M441.3 208.9V212.1M442.6 204.1V208.0M443.9 207.3V212.2M448.9 206.0V213.7M459.0 205.6V210.2M467.8 208.6V215.0M476.7 229.6V236.5M477.9 235.3V244.5M479.2 237.6V250.6M480.5 239.2V254.6M481.7 239.2V249.6M483.0 241.8V245.8M486.8 246.5V251.0M488.0 246.9V253.1M489.3 248.3V252.6M490.6 246.9V249.5M494.3 237.2V243.9M499.4 257.4V263.1M500.7 253.6V262.2M501.9 249.4V262.0M505.7 244.7V270.6M509.5 240.1V247.9M512.0 244.0V248.8M515.8 254.2V257.8M520.8 231.7V237.3M524.6 226.4V232.0M527.2 221.4V225.8M537.3 203.1V207.1M538.5 205.9V212.6M546.1 201.3V203.1M549.9 199.7V207.1M558.7 197.5V201.3M561.2 200.0V204.4M562.5 199.9V203.0M565.0 200.1V206.7M566.3 203.7V209.2M570.1 193.8V195.8M578.9 194.4V198.5M580.2 193.3V197.3M581.4 193.3V195.8M582.7 193.2V196.3M583.9 187.9V192.4M585.2 183.8V186.8M586.5 182.7V185.0M590.3 185.3V187.4M592.8 186.3V190.0M595.3 182.8V185.9M597.8 172.9V180.2M602.9 176.4V180.9M605.4 170.1V175.0M607.9 168.6V173.4M611.7 173.4V175.5M620.5 184.6V186.9M629.4 177.6V182.3M634.4 178.7V181.9M637.0 172.8V175.9M639.5 174.8V176.9M642.0 167.2V171.3M643.3 171.2V172.9M645.8 173.3V177.9M650.8 174.2V176.3M652.1 173.0V175.8M654.6 170.6V174.8M655.9 169.9V172.7M657.1 169.4V171.8M662.2 175.5V180.9M663.5 171.5V176.2M664.7 172.5V176.4M669.8 167.6V170.7M672.3 159.5V162.4M678.6 146.5V152.9M679.9 151.5V154.7M682.4 156.7V167.0M683.6 159.9V170.7M687.4 165.1V171.9M691.2 167.9V175.8M700.1 166.3V171.8M703.8 165.8V169.9M706.4 165.6V168.2M710.1 173.2V176.3M711.4 176.8V182.1M713.9 181.1V185.3M717.7 177.1V180.4M719.0 175.5V177.0M722.8 174.3V176.1M729.1 181.1V184.2M731.6 182.6V189.8M737.9 196.6V201.5M739.2 197.4V204.7M740.4 200.8V205.0M748.0 195.1V196.7" stroke="#1a1a9a" stroke-width="1.0" fill="none" opacity="0.85"/>
<path d="M426.3 192.6V202.7M428.5 190.0V199.0M430.7 186.3V196.4M433.3 195.0V202.0M435.8 204.6V212.9M438.3 206.0V212.0M440.2 211.6V216.7M442.8 201.5V209.0M445.3 205.0V225.5M447.2 206.5V215.4M449.7 204.0V216.7M451.6 211.6V221.7M453.5 209.0V216.7M456.0 204.0V210.3M459.2 205.3V211.6M462.4 202.0V207.0M464.9 203.4V209.0M467.0 200.9V211.6M468.0 209.0V216.7M470.6 214.8V227.0M473.4 222.0V239.0M476.2 226.0V236.0M480.0 238.0V256.8M483.4 238.0V247.5M485.6 243.7V251.0M488.4 246.5V255.0M491.2 243.7V250.0M494.0 235.0V244.6M496.8 241.8V253.0M498.7 253.0V270.0M501.5 249.0V262.4M504.3 245.6V275.5M505.4 240.0V272.0M506.6 232.5V285.0M507.8 233.0V264.0M509.0 234.0V257.0M510.9 236.0V247.5M513.3 246.5V255.0M515.6 251.0V262.4M518.0 238.0V249.0M520.8 229.7V238.0M523.6 229.7V244.6M525.3 218.4V226.0M527.7 221.0V227.5M529.6 222.0V232.0M532.4 215.6V224.0M534.2 203.5V212.5M535.7 198.0V205.0M538.7 203.5V214.7M541.7 199.7V209.5M544.0 203.5V211.0M547.0 196.7V203.5M549.2 200.5V210.0M553.0 192.0V200.5M556.0 196.0V202.0M558.2 196.0V201.0M560.5 199.0V205.0M563.5 198.0V204.0M566.2 200.5V211.0M569.5 193.0V197.5M571.7 192.0V196.0M574.0 199.0V204.0M577.0 195.0V200.5M580.0 193.0V198.0M583.0 192.0V196.7M585.2 181.7V188.5M588.2 181.0V185.5M589.7 182.5V189.0M591.7 185.5V193.0M594.2 184.7V188.5M596.5 179.5V184.0M598.7 166.0V180.0M601.0 177.0V184.0M603.2 175.0V181.7M605.5 169.0V176.5M607.7 168.0V173.5M610.0 171.0V175.7M612.2 172.0V176.5M614.2 177.0V184.7M616.0 185.5V194.5M618.2 187.7V196.0M620.8 182.5V187.7M623.5 181.7V187.0M625.4 185.5V195.0M627.2 182.5V187.0M629.5 176.5V182.5M631.6 177.0V183.0M633.7 178.5V186.0M636.7 171.7V177.0M639.0 174.7V179.2M642.0 166.5V174.0M644.2 169.5V177.0M647.2 174.0V180.7M649.5 173.2V179.2M652.5 170.2V177.0M655.5 169.5V174.7M657.7 166.5V174.0M659.2 156.0V173.2M661.5 175.5V183.7M663.7 170.2V178.5M666.0 168.7V176.2M669.0 168.0V175.5M672.0 159.7V165.0M673.5 151.5V155.2M675.0 143.2V150.7M677.2 142.5V151.5M679.5 147.7V155.2M681.7 153.7V162.7M683.2 157.5V175.5M684.6 157.5V164.2M686.2 161.2V168.7M688.5 163.5V178.5M690.7 162.0V178.5M693.0 165.0V174.7M694.2 151.5V175.5M695.2 168.0V186.0M697.5 165.0V173.2M699.7 165.7V172.5M702.7 162.7V171.7M705.0 165.7V171.7M707.2 163.5V167.2M709.5 170.2V174.7M711.7 175.5V183.7M714.0 177.7V187.5M715.8 177.0V187.5M718.5 174.7V179.2M720.7 172.5V177.0M723.0 173.2V177.0M726.0 172.5V178.5M728.2 177.7V186.7M730.8 180.0V189.7M733.5 186.0V192.0M735.7 186.0V192.5M737.5 194.7V202.2M739.7 197.0V206.0M742.0 203.7V214.2M744.2 198.5V206.0M746.2 194.0V200.0M747.7 192.5V196.2M749.2 197.7V206.0M751.0 203.7V212.0M752.5 209.7V219.5M753.7 212.0V226.2" stroke="#1a1a9a" stroke-width="0.8" fill="none"/>
<path d="M426.3 194.2V201.1M428.5 190.9V196.7M430.7 189.2V194.1M433.3 197.0V201.3M435.8 205.8V211.3M438.3 207.7V210.3M440.2 212.5V215.9M442.8 202.9V207.5M445.3 210.9V222.7M447.2 208.8V213.2M449.7 207.4V213.5M451.6 213.8V220.0M453.5 210.3V215.4M456.0 205.6V209.6M459.2 206.2V210.0M462.4 202.7V206.4M464.9 204.0V207.8M467.0 202.7V208.4M468.0 211.1V214.4M470.6 216.7V225.6M473.4 224.0V235.6M476.2 228.4V234.1M480.0 240.8V253.4M483.4 240.1V245.3M485.6 245.5V249.0M488.4 248.5V253.9M491.2 245.4V249.0M494.0 237.0V242.9M496.8 244.6V251.4M498.7 255.5V267.5M501.5 250.8V258.7M504.3 252.0V270.6M505.4 245.7V262.4M506.6 243.1V277.3M507.8 241.1V256.8M509.0 240.9V254.2M510.9 238.2V244.5M513.3 248.8V252.6M515.6 252.2V260.6M518.0 239.4V247.5M520.8 232.1V236.2M523.6 234.0V242.0M525.3 220.5V224.6M527.7 222.0V225.8M529.6 224.9V230.8M532.4 217.4V222.1M534.2 204.8V210.9M535.7 198.9V204.0M538.7 205.2V212.2M541.7 202.0V208.1M544.0 204.3V209.8M547.0 198.3V202.6M549.2 202.0V208.7M553.0 194.2V198.7M556.0 196.7V201.3M558.2 196.9V199.9M560.5 200.4V204.3M563.5 198.8V202.6M566.2 202.4V209.4M569.5 193.7V196.2M571.7 192.6V195.1M574.0 199.9V203.1M577.0 196.5V198.9M580.0 193.9V197.3M583.0 193.2V196.0M585.2 182.4V186.6M588.2 181.8V184.3M589.7 183.7V187.2M591.7 186.9V192.0M594.2 185.1V187.7M596.5 180.5V182.7M598.7 167.6V176.9M601.0 178.2V182.6M603.2 175.9V180.7M605.5 170.5V174.4M607.7 168.7V172.4M610.0 172.2V174.3M612.2 172.6V175.9M614.2 179.2V182.4M616.0 187.3V193.5M618.2 190.1V194.5M620.8 184.0V186.5M623.5 183.1V186.3M625.4 187.9V193.6M627.2 183.3V185.8M629.5 178.1V181.7M631.6 177.9V181.9M633.7 180.0V184.7M636.7 172.4V176.2M639.0 175.8V177.9M642.0 167.3V172.4M644.2 171.4V176.2M647.2 175.8V179.9M649.5 174.5V177.9M652.5 171.7V175.9M655.5 170.5V173.6M657.7 167.9V172.3M659.2 159.3V170.0M661.5 176.4V181.9M663.7 171.8V177.3M666.0 170.6V174.3M669.0 169.4V174.5M672.0 160.7V164.4M673.5 152.0V154.5M675.0 144.1V149.3M677.2 144.3V150.5M679.5 149.4V154.3M681.7 155.9V160.4M683.2 161.1V173.5M684.6 158.8V163.0M686.2 163.4V167.7M688.5 167.6V174.0M690.7 166.1V174.2M693.0 166.3V171.8M694.2 156.3V168.5M695.2 173.1V183.6M697.5 167.1V170.9M699.7 166.5V171.3M702.7 165.0V170.5M705.0 167.4V170.8M707.2 164.5V166.7M709.5 171.1V173.4M711.7 176.7V182.4M714.0 179.7V185.9M715.8 178.1V186.1M718.5 175.3V177.9M720.7 173.6V175.7M723.0 173.7V176.0M726.0 173.2V177.3M728.2 179.7V185.2M730.8 182.7V187.7M733.5 187.3V190.3M735.7 186.8V190.6M737.5 196.4V200.9M739.7 199.3V204.6M742.0 206.8V211.9M744.2 199.8V204.1M746.2 195.1V199.2M747.7 193.4V195.8M749.2 199.9V204.7M751.0 205.6V209.5M752.5 211.8V217.2M753.7 214.3V224.8" stroke="#16168f" stroke-width="1.6" fill="none"/>
<rect x="753" y="225" width="1.6" height="1.8" fill="#d8b400"/>
<g font-family="Liberation Sans, sans-serif" fill="#222">
<text x="425.5" y="81.8" font-size="5.35" font-weight="bold" fill="#111">MGK/VTV</text>
<text x="451.8" y="81.7" font-size="4.36" fill="#262626">Vanguard Mega Cap Growth ETF/Vanguard Value ETF</text>
<text x="561.3" y="81.7" font-size="3.7" fill="#333" letter-spacing="0.3">NYSE + BATS</text>
<text x="425.5" y="86.4" font-size="4.15" fill="#222">4-Feb-2026 9:38 pm</text>
<text x="768.4" y="81" font-size="4.25" fill="#999" text-anchor="end">© StockCharts.com</text>
<text x="624.4" y="86.8" font-size="4.4" font-weight="bold" fill="#111">Open</text>
<text x="638" y="86.8" font-size="4.1" fill="#333">1.955</text>
<text x="650.4" y="86.8" font-size="4.4" font-weight="bold" fill="#111">High</text>
<text x="662.4" y="86.8" font-size="4.1" fill="#333">1.955</text>
<text x="675" y="86.8" font-size="4.4" font-weight="bold" fill="#111">Low</text>
<text x="687.2" y="86.8" font-size="4.1" fill="#333">1.945</text>
<text x="699.6" y="86.8" font-size="4.4" font-weight="bold" fill="#111">Last</text>
<text x="711.2" y="86.8" font-size="4.1" fill="#333">1.947</text>
<text x="724" y="86.8" font-size="4.4" font-weight="bold" fill="#111">Chg</text>
<text x="734.2" y="86.8" font-size="4.1" fill="#333" letter-spacing="0.1">-0.019 (-0.95%)</text>
<text x="765.4" y="86.6" font-size="3.2" fill="#cc2222">▼</text>
</g>
<g font-family="DejaVu Sans, Liberation Sans, sans-serif" font-size="4.5">
<path d="M426.8 92 L428.5 88.9 L430.2 92 Z" fill="#2a6e2e"/>
<text x="431.4" y="92" fill="#222" letter-spacing="0.12">RSI(14) 24.41</text>
<rect x="427" y="141" width="3" height="2.6" fill="#1c1c9c"/>
<text x="431" y="143.9" fill="#222">MGK/VTV (Daily) 1.947</text>
<line x1="427" y1="146.6" x2="430" y2="146.6" stroke="#2828c0" stroke-width="1"/>
<text x="431" y="147.9" fill="#2222bb" stroke="#2222bb" stroke-width="0.12" font-size="3.6">MA(50) 2.124</text>
<line x1="427" y1="151.2" x2="430" y2="151.2" stroke="#e0304f" stroke-width="1"/>
<text x="431" y="152.5" fill="#dc2449" stroke="#dc2449" stroke-width="0.12" font-size="3.6">MA(200) 2.135</text>
<line x1="427" y1="296.7" x2="430.4" y2="296.7" stroke="#f08a3c" stroke-width="0.8"/>
<text x="431.8" y="298.2" fill="#222" letter-spacing="0.1">MACD(12,26,9) <tspan fill="#f59248">-0.038,</tspan> <tspan fill="#8e6ee0">-0.030,</tspan> <tspan fill="#f4bd8e">-0.008</tspan></text>
</g>
<g font-family="Liberation Sans, sans-serif" font-size="4.15" fill="#1c1c1c">
<text x="770.5" y="95.9">90</text>
<text x="770.5" y="105.2">70</text>
<text x="770.5" y="114.6">50</text>
<text x="770.5" y="123.9">30</text>
<text x="770.5" y="133.1">10</text>
<text x="770.3" y="145.2">2.300</text>
<text x="770.3" y="151.0">2.275</text>
<text x="770.3" y="156.8">2.250</text>
<text x="770.3" y="162.6">2.225</text>
<text x="770.3" y="168.4">2.200</text>
<text x="770.3" y="174.2">2.175</text>
<text x="770.3" y="180.0">2.150</text>
<text x="770.3" y="185.8">2.125</text>
<text x="770.3" y="191.6">2.100</text>
<text x="770.3" y="197.4">2.075</text>
<text x="770.3" y="203.2">2.050</text>
<text x="770.3" y="209.0">2.025</text>
<text x="770.3" y="214.8">2.000</text>
<text x="770.3" y="220.7">1.975</text>
<text x="770.3" y="226.5">1.950</text>
<text x="770.3" y="232.3">1.925</text>
<text x="770.3" y="238.1">1.900</text>
<text x="770.3" y="243.9">1.875</text>
<text x="770.3" y="249.7">1.850</text>
<text x="770.3" y="255.5">1.825</text>
<text x="770.3" y="261.3">1.800</text>
<text x="770.3" y="267.1">1.775</text>
<text x="770.3" y="272.9">1.750</text>
<text x="770.3" y="278.7">1.725</text>
<text x="770.3" y="284.5">1.700</text>
<text x="770.3" y="298.6">0.04</text>
<text x="770.3" y="304.0">0.03</text>
<text x="770.3" y="309.5">0.02</text>
<text x="770.3" y="314.9">0.01</text>
<text x="770.3" y="320.4">0.00</text>
<text x="769.2" y="325.8">-0.01</text>
<text x="769.2" y="331.2">-0.02</text>
<text x="769.2" y="336.7">-0.03</text>
<text x="769.2" y="342.1">-0.04</text>
<clipPath id="c25"><rect x="423.8" y="280" width="20" height="80"/></clipPath>
<text x="432.3" y="292.6" font-weight="bold" fill="#111" font-size="4.3" text-anchor="end" clip-path="url(#c25)">2025</text>
<text x="451.5" y="292.6" font-size="4.3" text-anchor="middle">Feb</text>
<text x="473.8" y="292.6" font-size="4.3" text-anchor="middle">Mar</text>
<text x="499.5" y="292.6" font-size="4.3" text-anchor="middle">Apr</text>
<text x="524.2" y="292.6" font-size="4.3" text-anchor="middle">May</text>
<text x="550" y="292.6" font-size="4.3" text-anchor="middle">Jun</text>
<text x="573.8" y="292.6" font-size="4.3" text-anchor="middle">Jul</text>
<text x="600.2" y="292.6" font-size="4.3" text-anchor="middle">Aug</text>
<text x="625.7" y="292.6" font-size="4.3" text-anchor="middle">Sep</text>
<text x="650.8" y="292.6" font-size="4.3" text-anchor="middle">Oct</text>
<text x="678.2" y="292.6" font-size="4.3" text-anchor="middle">Nov</text>
<text x="701" y="292.6" font-size="4.3" text-anchor="middle">Dec</text>
<text x="727" y="292.6" font-weight="bold" fill="#111" font-size="4.3" text-anchor="middle">2026</text>
<text x="751.2" y="292.6" font-size="4.3" text-anchor="middle">Feb</text>
<text x="432.3" y="349.8" font-weight="bold" fill="#111" font-size="4.3" text-anchor="end" clip-path="url(#c25)">2025</text>
<text x="451.5" y="349.8" font-size="4.3" text-anchor="middle">Feb</text>
<text x="473.8" y="349.8" font-size="4.3" text-anchor="middle">Mar</text>
<text x="499.5" y="349.8" font-size="4.3" text-anchor="middle">Apr</text>
<text x="524.2" y="349.8" font-size="4.3" text-anchor="middle">May</text>
<text x="550" y="349.8" font-size="4.3" text-anchor="middle">Jun</text>
<text x="573.8" y="349.8" font-size="4.3" text-anchor="middle">Jul</text>
<text x="600.2" y="349.8" font-size="4.3" text-anchor="middle">Aug</text>
<text x="625.7" y="349.8" font-size="4.3" text-anchor="middle">Sep</text>
<text x="650.8" y="349.8" font-size="4.3" text-anchor="middle">Oct</text>
<text x="678.2" y="349.8" font-size="4.3" text-anchor="middle">Nov</text>
<text x="701" y="349.8" font-size="4.3" text-anchor="middle">Dec</text>
<text x="727" y="349.8" font-weight="bold" fill="#111" font-size="4.3" text-anchor="middle">2026</text>
<text x="751.2" y="349.8" font-size="4.3" text-anchor="middle">Feb</text>
</g>
</g></svg>
</body></html>
